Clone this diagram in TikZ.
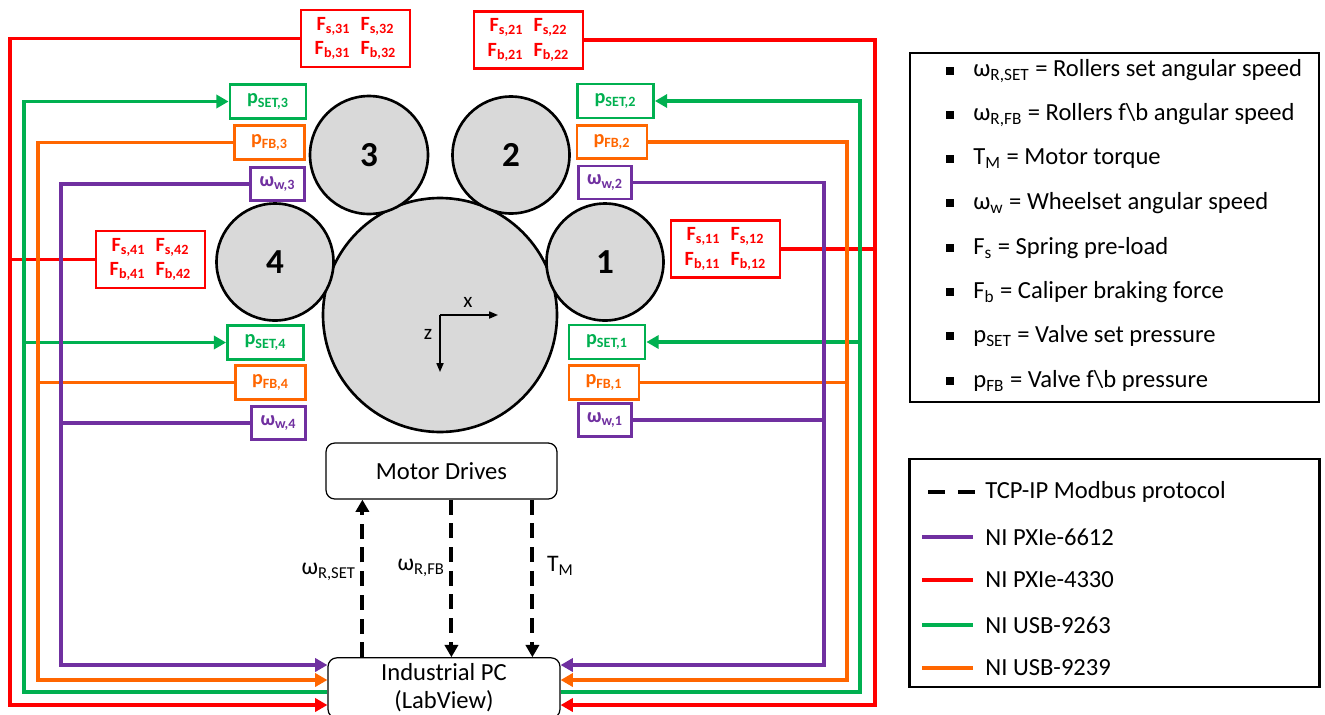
\documentclass[tikz,border=0pt]{standalone}
\usepackage{fontspec}
\setmainfont{Carlito}
\usepackage{tikz}
\usetikzlibrary{arrows.meta,positioning,calc}
\usepackage{xcolor}
\definecolor{sigred}{RGB}{255,0,0}
\definecolor{siggreen}{RGB}{0,176,80}
\definecolor{sigorange}{RGB}{255,102,0}
\definecolor{sigpurple}{RGB}{112,48,160}
\definecolor{rollgray}{RGB}{217,217,217}

\begin{document}
\begin{tikzpicture}[x=0.02cm, y=-0.02cm,
        roller/.style={draw, circle, line width=1.5pt, fill=rollgray, inner sep=0pt, font=\fontsize{20}{24}\selectfont\bfseries},
        sigbox/.style={draw, rectangle, line width=1.6pt, inner sep=0pt, align=center, fill=white, font=\fontsize{11.5}{14}\selectfont\bfseries},
        forcebox/.style={sigbox, draw=sigred, text=sigred, minimum width=2.18cm, minimum height=1.14cm},
        setbox/.style={sigbox, draw=siggreen, text=siggreen, minimum width=1.52cm, minimum height=0.68cm},
        fbbox/.style={sigbox, draw=sigorange, text=sigorange, minimum width=1.4cm, minimum height=0.67cm},
        wbox/.style={sigbox, draw=sigpurple, text=sigpurple, minimum width=1.07cm, minimum height=0.66cm},
        unit/.style={draw, rectangle, rounded corners=5pt, line width=0.7pt, align=center, fill=white, font=\fontsize{14}{16}\selectfont},
        wire/.style={line width=2pt},
        arr/.style={wire, -{Triangle[length=7pt, width=7.5pt]}},
        modbus/.style={line width=2.3pt, dash pattern=on 8.5pt off 5pt, -{Triangle[length=7pt, width=7.5pt]}},
        lbl/.style={inner sep=1pt, font=\fontsize{13.5}{16}\selectfont},
        key/.style={anchor=west, inner sep=0pt, font=\fontsize{14}{16}\selectfont},
        dot/.style={fill=black, minimum size=4pt, inner sep=0pt}
    ]
    \clip (0,0) rectangle (1325,714);

    \node[roller, minimum size=4.68cm] (wheel) at (440,315) {};
    \node[roller, minimum size=2.36cm] (r3) at (369,155) {3};
    \node[roller, minimum size=2.34cm] (r2) at (511,155) {2};
    \node[roller, minimum size=2.34cm] (r1) at (605,262) {1};
    \node[roller, minimum size=2.34cm] (r4) at (275,262) {4};

    \draw[line width=0.8pt, -{Triangle[length=5pt, width=4pt]}] (wheel.center) -- ++(58,0) node[pos=0.48, above=3pt, lbl, font=\fontsize{12}{14}\selectfont] (xlab) {x};
    \draw[line width=0.8pt, -{Triangle[length=5pt, width=4pt]}] (wheel.center) -- ++(0,57) node[pos=0.35, left=3pt, lbl, font=\fontsize{12}{14}\selectfont] (zlab) {z};

    \node[forcebox] (f3) at (355.5,38.5) {F\textsubscript{s,31}\enspace F\textsubscript{s,32}\\F\textsubscript{b,31}\enspace F\textsubscript{b,32}};
    \node[forcebox] (f2) at (528.5,40) {F\textsubscript{s,21}\enspace F\textsubscript{s,22}\\F\textsubscript{b,21}\enspace F\textsubscript{b,22}};
    \node[forcebox] (f4) at (150.5,259.5) {F\textsubscript{s,41}\enspace F\textsubscript{s,42}\\F\textsubscript{b,41}\enspace F\textsubscript{b,42}};
    \node[forcebox] (f1) at (725.5,249) {F\textsubscript{s,11}\enspace F\textsubscript{s,12}\\F\textsubscript{b,11}\enspace F\textsubscript{b,12}};

    \node[setbox] (ps3) at (268,101.5) {p\textsubscript{SET,3}};
    \node[fbbox] (pf3) at (269.5,142.5) {p\textsubscript{FB,3}};
    \node[wbox] (w3) at (277.5,184) {ω\textsubscript{w,3}};
    \node[setbox] (ps2) at (615.5,101) {p\textsubscript{SET,2}};
    \node[fbbox] (pf2) at (612,142) {p\textsubscript{FB,2}};
    \node[wbox] (w2) at (605,182.5) {ω\textsubscript{w,2}};
    \node[setbox] (ps4) at (265.5,342.5) {p\textsubscript{SET,4}};
    \node[fbbox] (pf4) at (270.5,382.5) {p\textsubscript{FB,4}};
    \node[wbox] (w4) at (278.5,423) {ω\textsubscript{w,4}};
    \node[setbox] (ps1) at (607,342) {p\textsubscript{SET,1}};
    \node[fbbox] (pf1) at (604,382.5) {p\textsubscript{FB,1}};
    \node[wbox] (w1) at (605,420) {ω\textsubscript{w,1}};

    \node[unit, minimum width=4.62cm, minimum height=1.12cm] (md) at (441.5,471) {Motor Drives};
    \node[unit, minimum width=4.64cm, minimum height=1.14cm] (pc) at (444,688) {Industrial PC\\(LabView)};

    \coordinate (redL) at (10,705);
    \coordinate (greenL) at (24,692);
    \coordinate (orangeL) at (38,680);
    \coordinate (purpleL) at (61,665);
    \coordinate (redR) at (875,705);
    \coordinate (greenR) at (860,692);
    \coordinate (orangeR) at (847,680);
    \coordinate (purpleR) at (824,665);

    \draw[arr, sigred] (f3.west) -| (redL) -- (redL -| pc.west);
    \draw[wire, sigred] (f4.west) -- (f4.west -| redL);
    \draw[arr, sigred] (f2.east) -| (redR) -- (redR -| pc.east);
    \draw[wire, sigred] (f1.east) -- (f1.east -| redR);

    \draw[arr, siggreen] (greenL -| pc.west) -| (ps3.west -| greenL) -- (ps3.west);
    \draw[arr, siggreen] (ps4.west -| greenL) -- (ps4.west);
    \draw[arr, siggreen] (greenR -| pc.east) -| (ps2.east -| greenR) -- (ps2.east);
    \draw[arr, siggreen] (ps1.east -| greenR) -- (ps1.east);

    \draw[arr, sigorange] (pf3.west) -| (orangeL) -- (orangeL -| pc.west);
    \draw[wire, sigorange] (pf4.west) -- (pf4.west -| orangeL);
    \draw[arr, sigorange] (pf2.east) -| (orangeR) -- (orangeR -| pc.east);
    \draw[wire, sigorange] (pf1.east) -- (pf1.east -| orangeR);

    \draw[arr, sigpurple] (w3.west) -| (purpleL) -- (purpleL -| pc.west);
    \draw[wire, sigpurple] (w4.west) -- (w4.west -| purpleL);
    \draw[arr, sigpurple] (w2.east) -| (purpleR) -- (purpleR -| pc.east);
    \draw[wire, sigpurple] (w1.east) -- (w1.east -| purpleR);

    \draw[modbus] ($(pc.north west)+(35,0)$) -- ($(md.south west)+(37,0)$);
    \draw[modbus] ($(md.south west)+(126,0)$) -- ($(pc.north west)+(124,0)$);
    \draw[modbus] ($(md.south west)+(207,0)$) -- ($(pc.north west)+(205,0)$);
    \node[lbl, anchor=east] (wset) at (358,572) {ω\textsubscript{R,SET}};
    \node[lbl, anchor=east] (wfb) at (447,568) {ω\textsubscript{R,FB}};
    \node[lbl, anchor=west] (tm) at (545,566) {T\textsubscript{M}};

    \node[draw, line width=1.5pt, minimum width=8.18cm, minimum height=6.98cm] (legA) at (1114.5,227.5) {};
    \node[dot] (b1) at (950,71) {};
    \node[key] (k1) at (973,71) {ω\textsubscript{R,SET} = Rollers set angular speed};
    \node[dot] (b2) at (950,115) {};
    \node[key] (k2) at (973,115) {ω\textsubscript{R,FB} = Rollers f\textbackslash b angular speed};
    \node[dot] (b3) at (950,159) {};
    \node[key] (k3) at (973,159) {T\textsubscript{M} = Motor torque};
    \node[dot] (b4) at (950,203) {};
    \node[key] (k4) at (973,203) {ω\textsubscript{w} = Wheelset angular speed};
    \node[dot] (b5) at (950,248) {};
    \node[key] (k5) at (973,248) {F\textsubscript{s} = Spring pre-load};
    \node[dot] (b6) at (950,292) {};
    \node[key] (k6) at (973,292) {F\textsubscript{b} = Caliper braking force};
    \node[dot] (b7) at (950,336) {};
    \node[key] (k7) at (973,336) {p\textsubscript{SET} = Valve set pressure};
    \node[dot] (b8) at (950,381) {};
    \node[key] (k8) at (973,381) {p\textsubscript{FB} = Valve f\textbackslash b pressure};

    \node[draw, line width=1.5pt, minimum width=8.2cm, minimum height=4.56cm] (legB) at (1114.5,573) {};
    \draw[line width=2.3pt, dash pattern=on 9.6pt off 7.4pt] (928,492) -- (975,492);
    \node[key] (t1) at (985,492) {TCP-IP Modbus protocol};
    \draw[line width=2.5pt, sigpurple] (922,537) -- (973,537);
    \node[key] (t2) at (985,537) {NI PXIe-6612};
    \draw[line width=2.5pt, sigred] (922,580) -- (973,580);
    \node[key] (t3) at (985,580) {NI PXIe-4330};
    \draw[line width=2.5pt, siggreen] (922,625) -- (973,625);
    \node[key] (t4) at (985,625) {NI USB-9263};
    \draw[line width=2.5pt, sigorange] (922,668) -- (973,668);
    \node[key] (t5) at (985,668) {NI USB-9239};

\end{tikzpicture}
\end{document}
